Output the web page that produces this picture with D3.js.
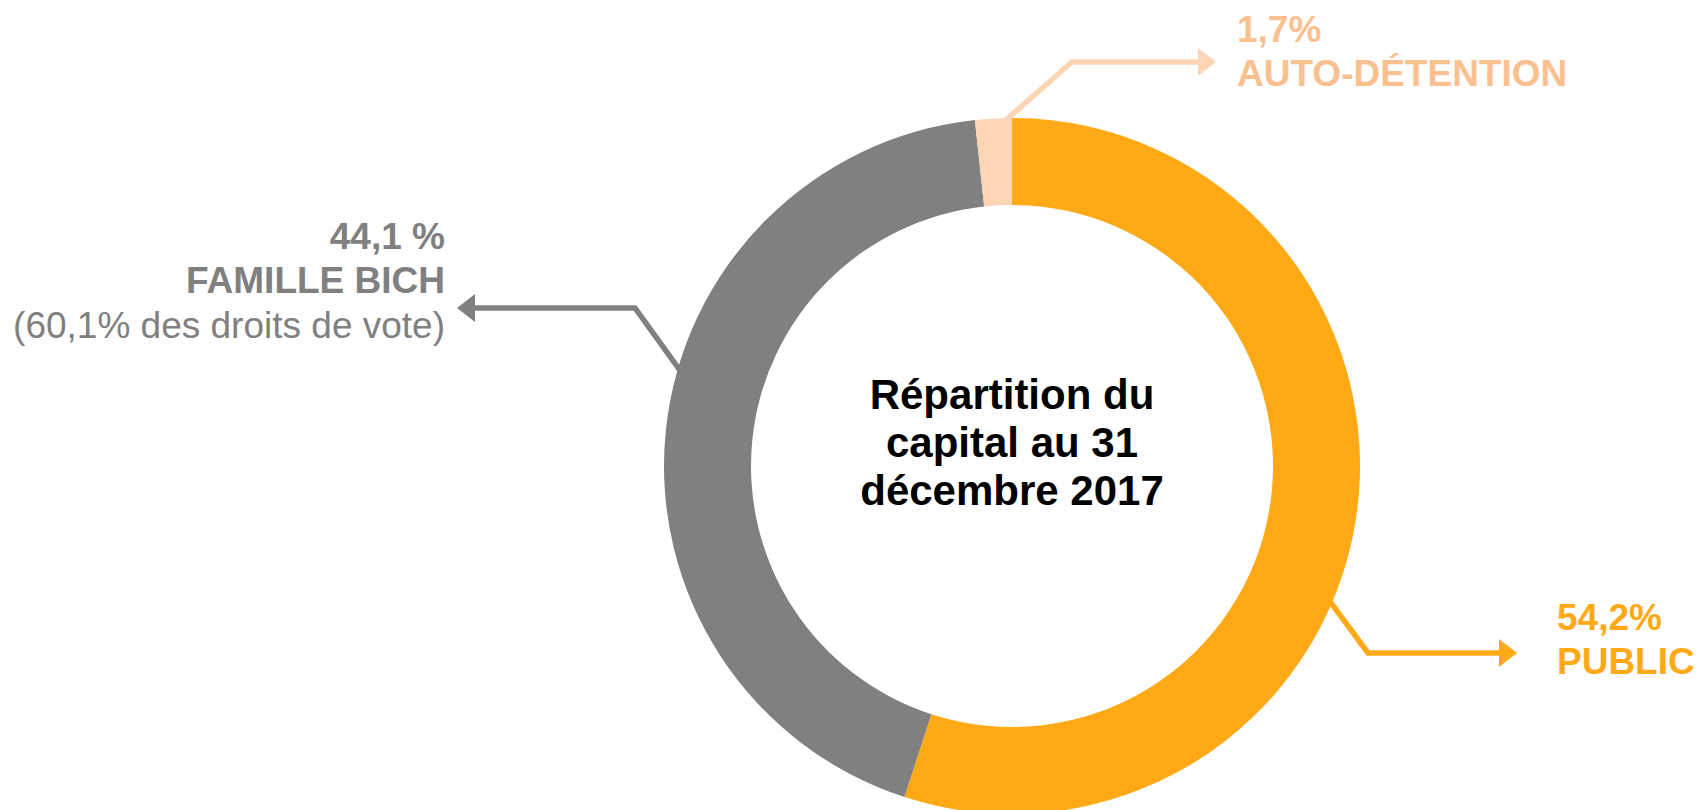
<!DOCTYPE html>
<html>
<head>
<meta charset="utf-8">
<script src="https://cdn.jsdelivr.net/npm/d3@7"></script>
<style>
  html, body { margin: 0; padding: 0; background: #fff; }
  svg { display: block; font-family: "Liberation Sans", Arial, sans-serif; }
</style>
</head>
<body>
<div id="chart"></div>
<script>
// données : répartition du capital
const categories = ["PUBLIC", "FAMILLE BICH", "AUTO-DÉTENTION"];
// parts telles que dessinées sur l'anneau
const sliceValues = [55.0, 43.3, 1.7];
const pctLabels = ["54,2%", "44,1 %", "1,7%"];
const subLabels = ["", "(60,1% des droits de vote)", ""];
const fills = ["#FFA916", "#808080", "#FCD5B5"];
const textColors = ["#FFA916", "#808080", "#FAC090"];
const lineColors = ["#FFA916", "#808080", "#FCD5B5"];
const centerLines = ["Répartition du", "capital au 31", "décembre 2017"];

const W = 1700, H = 810;
const cx = 1012, cy = 466;
const outerR = 348, innerR = 261;

const svg = d3.select("#chart").append("svg")
  .attr("width", W).attr("height", H);

const g = svg.append("g").attr("transform", `translate(${cx},${cy})`);

const pie = d3.pie().sort(null).value(d => d)(sliceValues);
const arc = d3.arc().innerRadius(innerR).outerRadius(outerR);

g.selectAll("path.slice")
  .data(pie)
  .enter()
  .append("path")
    .attr("class", "slice")
    .attr("d", arc)
    .attr("fill", (d, i) => fills[i]);

// texte central
g.append("text")
  .attr("text-anchor", "middle")
  .attr("font-size", 42)
  .attr("font-weight", "bold")
  .attr("fill", "#000")
  .selectAll("tspan")
  .data(centerLines)
  .enter()
  .append("tspan")
    .attr("x", 0)
    .attr("y", (d, i) => -57 + i * 48)
    .text(d => d);

// flèches de légende (angle de départ sur l'anneau, coude, pointe)
const leaders = [
  { angle: 113, elbow: [1368, 653], tipX: 1517 },
  { angle: 286, elbow: [635, 308], tipX: 457 },
  { angle: 358.8, elbow: [1072, 62], tipX: 1216 }
];

const headLen = 18, headHalf = 14;

leaders.forEach((l, i) => {
  const a = l.angle * Math.PI / 180;
  const sx = cx + Math.sin(a) * (outerR - 3);
  const sy = cy - Math.cos(a) * (outerR - 3);
  const [ex, ey] = l.elbow;
  const dir = l.tipX > ex ? 1 : -1;
  const baseX = l.tipX - dir * headLen;
  svg.append("path")
    .attr("d", d3.line()([[sx, sy], [ex, ey], [baseX, ey]]))
    .attr("fill", "none")
    .attr("stroke", lineColors[i])
    .attr("stroke-width", 5.5)
    .attr("stroke-linejoin", "miter");
  svg.append("path")
    .attr("d", d3.line()([[baseX, ey - headHalf], [l.tipX, ey], [baseX, ey + headHalf]]) + "Z")
    .attr("fill", lineColors[i]);
});

// étiquettes
const labelPos = [
  { x: 1557, y: 630, anchor: "start" },
  { x: 445, y: 249, anchor: "end" },
  { x: 1237, y: 42, anchor: "start" }
];

labelPos.forEach((p, i) => {
  const t = svg.append("text")
    .attr("text-anchor", p.anchor)
    .attr("font-size", 37)
    .attr("fill", textColors[i]);
  t.append("tspan").attr("x", p.x).attr("y", p.y)
    .attr("font-weight", "bold").text(pctLabels[i]);
  t.append("tspan").attr("x", p.x).attr("y", p.y + 44)
    .attr("font-weight", "bold").text(categories[i]);
  if (subLabels[i]) {
    t.append("tspan").attr("x", p.x).attr("y", p.y + 89)
      .text(subLabels[i]);
  }
});
</script>
</body>
</html>
